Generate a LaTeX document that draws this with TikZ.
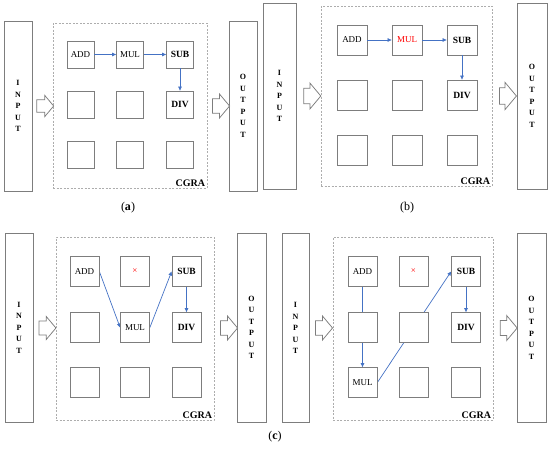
\documentclass[tikz,border=0pt]{standalone}
\usepackage{fontspec}
\setmainfont{Liberation Serif}
\usetikzlibrary{shapes.arrows,arrows.meta,positioning,backgrounds}
\definecolor{cgblue}{RGB}{68,114,196}
\definecolor{cgline}{RGB}{125,125,125}
\tikzset{
  pecell/.style={
    rectangle, draw=cgline, fill=white, line width=0.75pt,
    minimum width=27pt, minimum height=27pt, inner sep=0pt,
    font=\fontsize{9}{10}\selectfont
  },
  peop/.style={pecell, font=\fontsize{9.5}{10}\selectfont\bfseries},
  iobox/.style={
    rectangle, draw=cgline, fill=white, line width=0.75pt, inner sep=0pt,
    align=center, font=\fontsize{8}{11.5}\selectfont\bfseries
  },
  cgrabox/.style={rectangle, draw=black!32, dash pattern=on 2pt off 1.5pt, line width=0.6pt, inner sep=0pt},
  cgralabel/.style={anchor=south east, font=\fontsize{10}{12}\selectfont\bfseries, inner sep=2pt},
  ioarrow/.style={
    single arrow, draw=cgline, fill=white, line width=0.75pt,
    inner xsep=0pt, inner ysep=5pt, minimum height=17pt,
    single arrow head extend=3.5pt, single arrow head indent=0pt, single arrow tip angle=100
  },
  dfarrow/.style={-{Triangle[length=4pt,width=3.5pt]}, draw=cgblue, line width=0.7pt},
  subcap/.style={font=\fontsize{12}{14}\selectfont},
  xmark/.style={text=red},
}

\begin{document}
\begin{tikzpicture}[x=1pt, y=-1pt]
  \useasboundingbox (0,0) rectangle (550,450);

  % (a)
  \node (a-in) [iobox, minimum width=28pt, minimum height=170pt] at (18,106) {I\\N\\P\\U\\T};
  \node (a-cgra) [cgrabox, minimum width=154pt, minimum height=165pt] at (130,105.5) {};
  \node (a-out) [iobox, minimum width=28pt, minimum height=170pt] at (243,106) {O\\U\\T\\P\\U\\T};
  \node (a-add) [pecell] at (80.5,54.5) {ADD};
  \node (a-mul) [pecell] at (130,54.5) {MUL};
  \node (a-sub) [peop] at (180,54.5) {SUB};
  \node (a-c21) [pecell] at (80.5,104.5) {};
  \node (a-c22) [pecell] at (130,104.5) {};
  \node (a-div) [peop] at (180,104.5) {DIV};
  \node (a-c31) [pecell] at (80.5,154.5) {};
  \node (a-c32) [pecell] at (130,154.5) {};
  \node (a-c33) [pecell] at (180,154.5) {};
  \node (a-inarr) [ioarrow, minimum width=21pt] at (42.5,106) {};
  \node (a-outarr) [ioarrow, minimum width=24pt] at (218,106) {};
  \node [cgralabel] at (a-cgra.south east) {CGRA};
  \node (a-cap) [subcap] at (128,208) {(\textbf{a})};
  \draw[dfarrow] (a-add) -- (a-mul); \draw[dfarrow] (a-mul) -- (a-sub);
  \draw[dfarrow] (a-sub) -- (a-div);

  % (b)
  \begin{scope}[pecell/.append style={minimum width=30pt, minimum height=30pt}]
  \node (b-in) [iobox, minimum width=33pt, minimum height=186pt] at (279.5,96) {I\\N\\P\\U\\T};
  \node (b-cgra) [cgrabox, minimum width=171pt, minimum height=180pt] at (406.5,96) {};
  \node (b-out) [iobox, minimum width=30pt, minimum height=186pt] at (532,96) {O\\U\\T\\P\\U\\T};
  \node (b-add) [pecell] at (352,40) {ADD};
  \node (b-mul) [pecell, text=red] at (407,40) {MUL};
  \node (b-sub) [peop] at (462,40) {SUB};
  \node (b-c21) [pecell] at (352,95) {};
  \node (b-c22) [pecell] at (407,95) {};
  \node (b-div) [peop] at (462,95) {DIV};
  \node (b-c31) [pecell] at (352,150) {};
  \node (b-c32) [pecell] at (407,150) {};
  \node (b-c33) [pecell] at (462,150) {};
  \node (b-inarr) [ioarrow, minimum width=26pt] at (309,96) {};
  \node (b-outarr) [ioarrow, minimum width=27pt] at (504.5,96) {};
  \node [cgralabel] at (b-cgra.south east) {CGRA};
  \node (b-cap) [subcap] at (407,208) {(b)};
  \draw[dfarrow] (b-add) -- (b-mul); \draw[dfarrow] (b-mul) -- (b-sub);
  \draw[dfarrow] (b-sub) -- (b-div);
  \end{scope}

  % (c), left
  \begin{scope}[pecell/.append style={minimum width=29pt, minimum height=30pt}]
  \node (c1-in) [iobox, minimum width=28pt, minimum height=189pt] at (19,327.5) {I\\N\\P\\U\\T};
  \node (c1-cgra) [cgrabox, minimum width=158pt, minimum height=183pt] at (135,328.5) {};
  \node (c1-out) [iobox, minimum width=29pt, minimum height=189pt] at (251.5,327.5) {O\\U\\T\\P\\U\\T};
  \node (c1-add) [pecell] at (84.5,271.5) {ADD};
  \node (c1-x) [pecell, xmark] at (135,271.5) {×};
  \node (c1-sub) [peop] at (186.5,271.5) {SUB};
  \node (c1-c21) [pecell] at (84.5,327.5) {};
  \node (c1-mul) [pecell] at (135,327.5) {MUL};
  \node (c1-div) [peop] at (186.5,327.5) {DIV};
  \node (c1-c31) [pecell] at (84.5,382.5) {};
  \node (c1-c32) [pecell] at (135,382.5) {};
  \node (c1-c33) [pecell] at (186.5,382.5) {};
  \node (c1-inarr) [ioarrow, minimum width=23pt] at (44.5,328) {};
  \node (c1-outarr) [ioarrow, minimum width=24pt] at (226,328) {};
  \node [cgralabel] at (c1-cgra.south east) {CGRA};
  \begin{scope}[on background layer]
  \draw[dfarrow] (c1-add.east) -- (c1-mul.west); \draw[dfarrow] (c1-mul.east) -- (c1-sub.west);
  \draw[dfarrow] (c1-sub) -- (c1-div);
  \end{scope}

  % (c), right
  \node (c2-in) [iobox, minimum width=27pt, minimum height=189pt] at (295.5,328) {I\\N\\P\\U\\T};
  \node (c2-cgra) [cgrabox, minimum width=160pt, minimum height=183pt] at (413,328.5) {};
  \node (c2-out) [iobox, minimum width=29pt, minimum height=189pt] at (531.5,328) {O\\U\\T\\P\\U\\T};
  \node (c2-add) [pecell] at (362.5,271.5) {ADD};
  \node (c2-x) [pecell, xmark] at (413.5,271.5) {×};
  \node (c2-sub) [peop] at (466,271.5) {SUB};
  \node (c2-c21) [pecell] at (362.5,327.5) {};
  \node (c2-c22) [pecell] at (413.5,327.5) {};
  \node (c2-div) [peop] at (466,327.5) {DIV};
  \node (c2-mul) [pecell] at (362.5,382.5) {MUL};
  \node (c2-c32) [pecell] at (413.5,382.5) {};
  \node (c2-c33) [pecell] at (466,382.5) {};
  \node (c2-inarr) [ioarrow, minimum width=24pt] at (321,328) {};
  \node (c2-outarr) [ioarrow, minimum width=25pt] at (505.5,328) {};
  \node [cgralabel] at (c2-cgra.south east) {CGRA};
  \node (c-cap) [subcap] at (275,437) {(\textbf{c})};
  \begin{scope}[on background layer]
  \draw[dfarrow] (c2-add) -- (c2-mul); \draw[dfarrow] (c2-mul.east) -- (c2-sub.west);
  \draw[dfarrow] (c2-sub) -- (c2-div);
  \end{scope}
  \end{scope}
\end{tikzpicture}
\end{document}
